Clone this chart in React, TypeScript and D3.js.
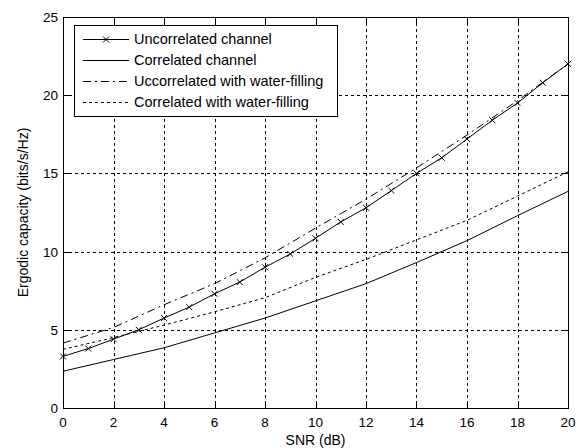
import React, { useEffect, useRef } from 'react'
import * as d3 from 'd3'

const snr = d3.range(0, 21)
const snrCoarse = [0, 2, 4, 6, 8, 10, 12, 14, 16, 18, 20]

const uncorrelated = [3.3, 3.8, 4.4, 5.0, 5.75, 6.45, 7.3, 8.05, 9.0, 9.85, 10.85, 11.9, 12.8, 13.9, 15.0, 16.0, 17.2, 18.4, 19.5, 20.8, 22.0]
const correlated = [2.35, 3.1, 3.85, 4.8, 5.75, 6.85, 7.95, 9.3, 10.7, 12.3, 13.85]
const uncorrWF = [4.15, 5.15, 6.6, 7.95, 9.6, 11.5, 13.35, 15.35, 17.45, 19.65, 22.0]
const corrWF = [3.75, 4.5, 5.3, 6.15, 7.05, 8.35, 9.5, 10.75, 12.0, 13.55, 15.1]

const xTicks = [0, 2, 4, 6, 8, 10, 12, 14, 16, 18, 20]
const yTicks = [0, 5, 10, 15, 20, 25]

const legendItems = [
  { label: 'Uncorrelated channel', dash: null, marker: true },
  { label: 'Correlated channel', dash: null, marker: false },
  { label: 'Uccorrelated with water-filling', dash: '8,4,2,4', marker: false },
  { label: 'Correlated with water-filling', dash: '3,3', marker: false },
]

const App = () => {
  const ref = useRef<SVGSVGElement>(null)
  const width = 582
  const height = 448
  const m = { left: 63, right: 568, top: 17, bottom: 408 }

  useEffect(() => {
    const svg = d3.select(ref.current)
    svg.selectAll('*').remove()
    const font = 'Liberation Sans, Arial, sans-serif'

    const x = d3.scaleLinear().domain([0, 20]).range([m.left, m.right])
    const y = d3.scaleLinear().domain([0, 25]).range([m.bottom, m.top])

    svg.append('rect').attr('width', width).attr('height', height).attr('fill', 'white')

    // grid
    const grid = svg.append('g').attr('stroke', '#000').attr('stroke-dasharray', '3,3').attr('stroke-width', 1)
    xTicks.slice(1, -1).forEach(t => {
      grid.append('line').attr('x1', Math.round(x(t)) + 0.5).attr('x2', Math.round(x(t)) + 0.5).attr('y1', m.top).attr('y2', m.bottom)
    })
    yTicks.slice(1, -1).forEach(t => {
      grid.append('line').attr('y1', Math.round(y(t)) + 0.5).attr('y2', Math.round(y(t)) + 0.5).attr('x1', m.left).attr('x2', m.right)
    })

    // frame + ticks
    const ax = svg.append('g').attr('stroke', '#000').attr('fill', 'none')
    ax.append('rect').attr('x', m.left + 0.5).attr('y', m.top + 0.5)
      .attr('width', m.right - m.left).attr('height', m.bottom - m.top)
    const tl = 6
    xTicks.forEach(t => {
      const px = Math.round(x(t)) + 0.5
      ax.append('line').attr('x1', px).attr('x2', px).attr('y1', m.bottom).attr('y2', m.bottom - tl)
      ax.append('line').attr('x1', px).attr('x2', px).attr('y1', m.top).attr('y2', m.top + tl)
    })
    yTicks.forEach(t => {
      const py = Math.round(y(t)) + 0.5
      ax.append('line').attr('x1', m.left).attr('x2', m.left + tl).attr('y1', py).attr('y2', py)
      ax.append('line').attr('x1', m.right).attr('x2', m.right - tl).attr('y1', py).attr('y2', py)
    })

    // tick labels
    svg.append('g').selectAll('text').data(xTicks).join('text')
      .attr('x', d => x(d)).attr('y', m.bottom + 19)
      .attr('text-anchor', 'middle').attr('font-family', font).attr('font-size', 13.5)
      .text(d => d)
    svg.append('g').selectAll('text').data(yTicks).join('text')
      .attr('x', m.left - 5).attr('y', d => y(d) + 5)
      .attr('text-anchor', 'end').attr('font-family', font).attr('font-size', 13.5)
      .text(d => d)

    svg.append('text').attr('x', (m.left + m.right) / 2).attr('y', 445)
      .attr('text-anchor', 'middle').attr('font-family', font).attr('font-size', 14)
      .text('SNR (dB)')
    svg.append('text').attr('transform', `translate(28,${(m.top + m.bottom) / 2}) rotate(-90)`)
      .attr('text-anchor', 'middle').attr('font-family', font).attr('font-size', 14)
      .text('Ergodic capacity (bits/s/Hz)')

    const line = d3.line<[number, number]>().x(d => x(d[0])).y(d => y(d[1]))
    const plot = svg.append('g').attr('fill', 'none').attr('stroke', '#000').attr('stroke-width', 1)

    plot.append('path').attr('d', line(snrCoarse.map((s, i) => [s, corrWF[i]]))).attr('stroke-dasharray', '3,3')
    plot.append('path').attr('d', line(snrCoarse.map((s, i) => [s, uncorrWF[i]]))).attr('stroke-dasharray', '8,4,2,4')
    plot.append('path').attr('d', line(snrCoarse.map((s, i) => [s, correlated[i]])))
    plot.append('path').attr('d', line(snr.map((s, i) => [s, uncorrelated[i]])))

    const ms = 3
    const markX = (g: any, cx: number, cy: number) => {
      g.append('path').attr('d', `M${cx - ms},${cy - ms}L${cx + ms},${cy + ms}M${cx - ms},${cy + ms}L${cx + ms},${cy - ms}`)
    }
    snr.forEach((s, i) => markX(plot, x(s), y(uncorrelated[i])))

    // legend
    const lg = svg.append('g')
    lg.append('rect').attr('x', 74.5).attr('y', 25.5).attr('width', 263).attr('height', 91)
      .attr('fill', 'white').attr('stroke', '#000')
    legendItems.forEach((d, i) => {
      const ly = 39 + i * 21
      const l = lg.append('line').attr('x1', 83).attr('x2', 129).attr('y1', ly + 0.5).attr('y2', ly + 0.5)
        .attr('stroke', '#000')
      if (d.dash) l.attr('stroke-dasharray', d.dash)
      if (d.marker) {
        const g = lg.append('g').attr('stroke', '#000')
        markX(g, 106, ly + 0.5)
      }
      lg.append('text').attr('x', 134).attr('y', ly + 5)
        .attr('font-family', font).attr('font-size', 14.5).text(d.label)
    })
  }, [])

  return (
    <div>
      <svg ref={ref} width={width} height={height} style={{ position: 'absolute', left: 0, top: 0 }}></svg>
    </div>
  )
}

export default App
